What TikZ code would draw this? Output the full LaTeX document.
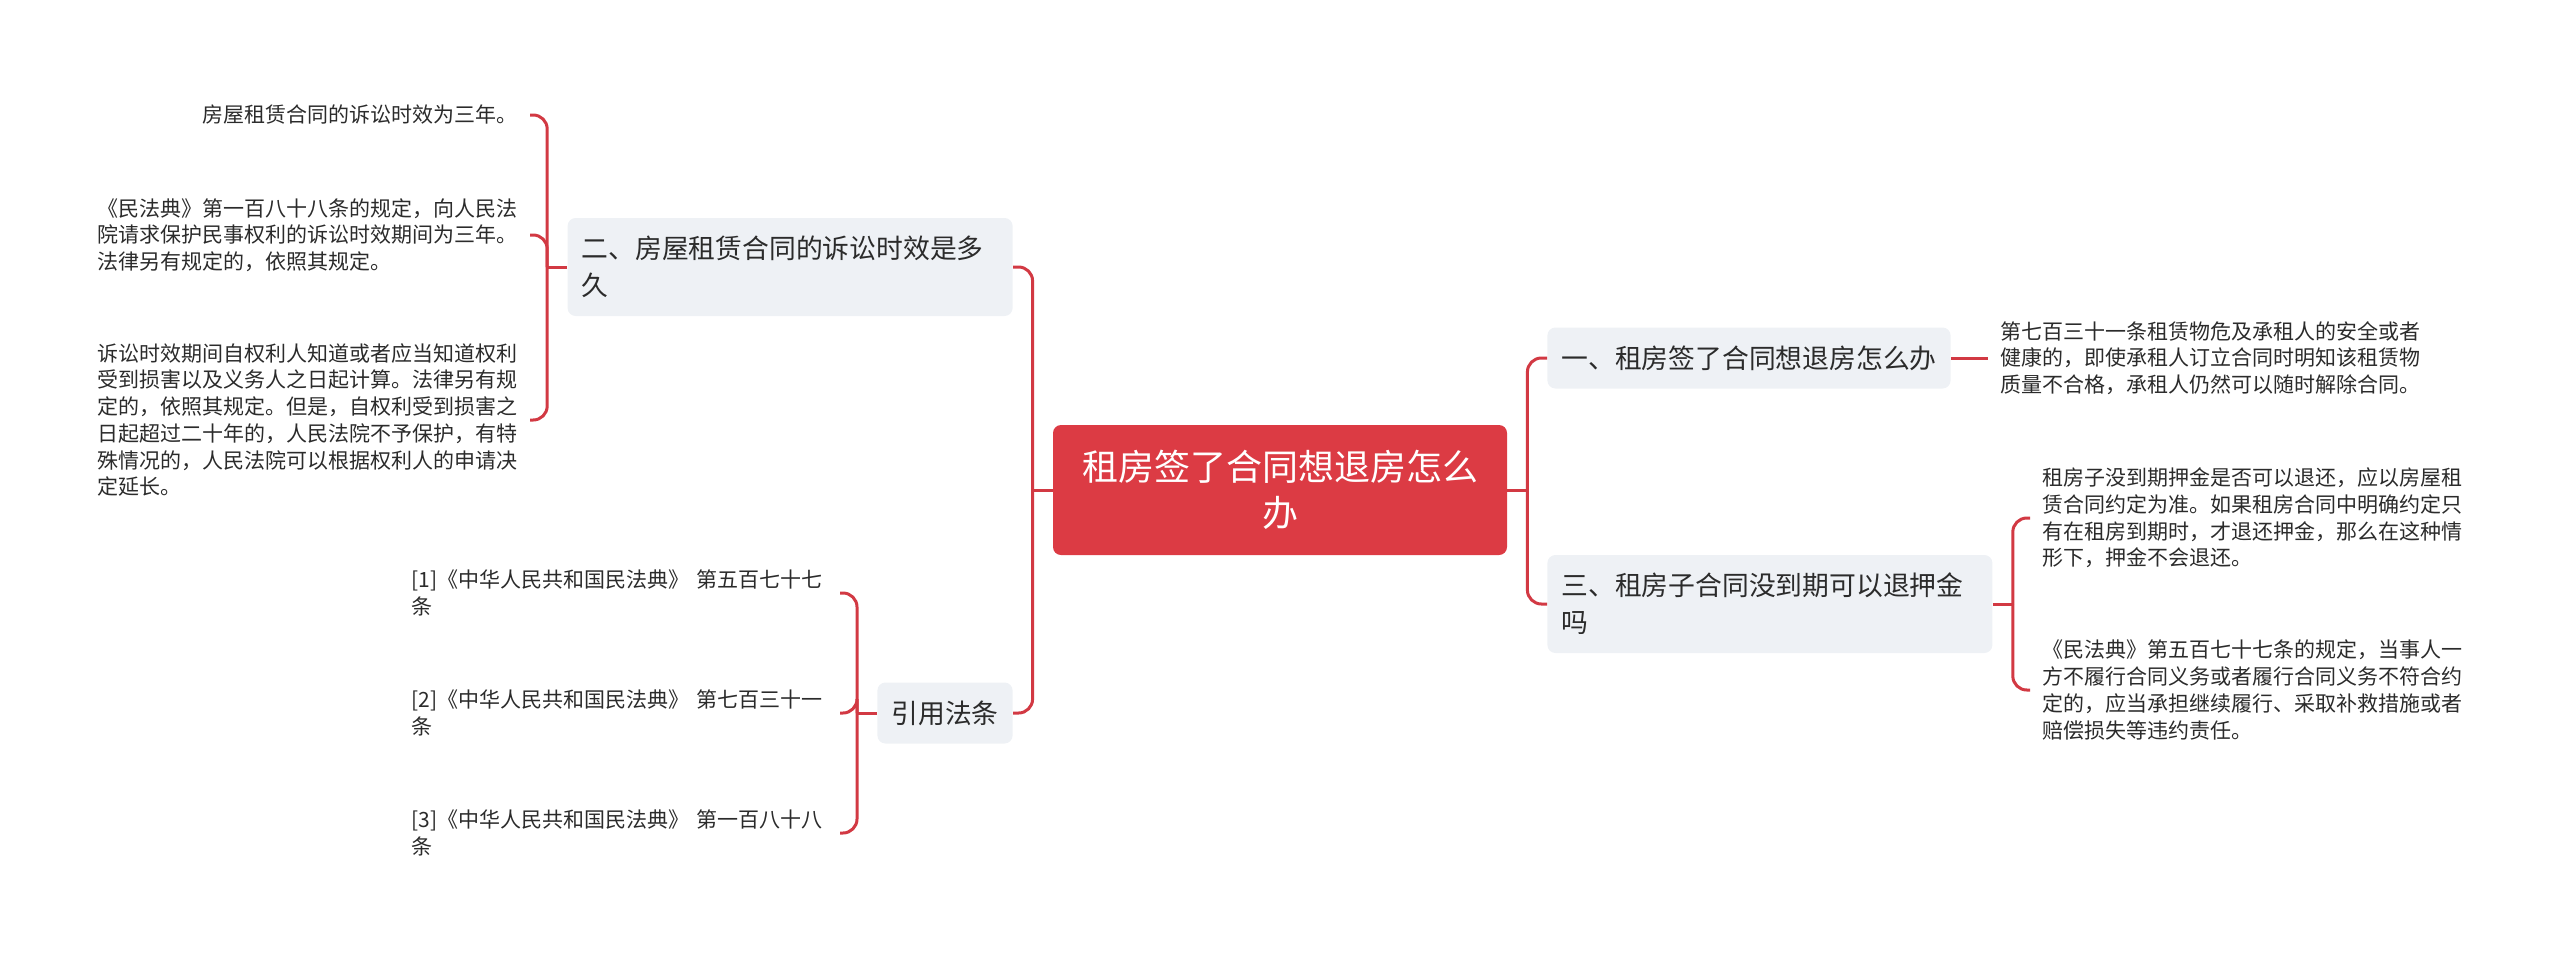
\documentclass[tikz,border=0pt]{standalone}
\usepackage{fontspec}
\setmainfont{Noto Sans CJK SC}
\usepackage{tikz}
\usetikzlibrary{positioning}
\definecolor{rootred}{HTML}{DC3B44}
\definecolor{linkred}{HTML}{D23943}
\definecolor{boxgray}{HTML}{EEF1F5}
\definecolor{inkgray}{HTML}{2B2B2B}

\begin{document}
\begin{tikzpicture}[x=0.5pt,y=-0.5pt]
  \tikzstyle{root}=[fill=rootred,text=white,rounded corners=4pt,minimum width=227pt,minimum height=65pt,align=center,font=\fontsize{18pt}{23pt}\selectfont]
  \tikzstyle{topic}=[fill=boxgray,text=inkgray,rounded corners=4pt,inner xsep=7pt,align=left,font=\fontsize{13.4pt}{18.5pt}\selectfont]
  \tikzstyle{leaf}=[text=inkgray,inner xsep=6pt,inner ysep=2pt,align=left,font=\fontsize{10.5pt}{13.35pt}\selectfont]
  \tikzstyle{link}=[draw=linkred,line width=1.5pt,rounded corners=7pt]
\useasboundingbox (0,0) rectangle (2560,960);
\node[root] (root) at (1280,490) {租房签了合同想退房怎么\\办};
\node[topic,text width=208.5pt,minimum height=49pt,anchor=east] (limit) at (1013,267) {二、房屋租赁合同的诉讼时效是多\\久};
\node[topic,minimum height=30.5pt,anchor=east] (cite) at (1013,713) {引用法条};
\node[topic,minimum height=30.5pt,anchor=west] (refund) at (1547,358) {一、租房签了合同想退房怎么办};
\node[topic,text width=208.5pt,minimum height=49pt,anchor=west] (deposit) at (1547,604) {三、租房子合同没到期可以退押金\\吗};
\node[leaf,anchor=east,align=right] (limitA) at (530,115) {房屋租赁合同的诉讼时效为三年。};
\node[leaf,anchor=east] (limitB) at (530,235) {《民法典》第一百八十八条的规定，向人民法\\院请求保护民事权利的诉讼时效期间为三年。\\法律另有规定的，依照其规定。};
\node[leaf,anchor=east] (limitC) at (530,420) {诉讼时效期间自权利人知道或者应当知道权利\\受到损害以及义务人之日起计算。法律另有规\\定的，依照其规定。但是，自权利受到损害之\\日起超过二十年的，人民法院不予保护，有特\\殊情况的，人民法院可以根据权利人的申请决\\定延长。};
\node[leaf,anchor=east,text width=208pt] (citeA) at (840,593) {[1]《中华人民共和国民法典》 第五百七十七\\条};
\node[leaf,anchor=east,text width=208pt] (citeB) at (840,713) {[2]《中华人民共和国民法典》 第七百三十一\\条};
\node[leaf,anchor=east,text width=208pt] (citeC) at (840,833) {[3]《中华人民共和国民法典》 第一百八十八\\条};
\node[leaf,anchor=west] (refundA) at (1988,358) {第七百三十一条租赁物危及承租人的安全或者\\健康的，即使承租人订立合同时明知该租赁物\\质量不合格，承租人仍然可以随时解除合同。};
\node[leaf,anchor=west] (depositA) at (2030,518) {租房子没到期押金是否可以退还，应以房屋租\\赁合同约定为准。如果租房合同中明确约定只\\有在租房到期时，才退还押金，那么在这种情\\形下，押金不会退还。};
\node[leaf,anchor=west] (depositB) at (2030,690) {《民法典》第五百七十七条的规定，当事人一\\方不履行合同义务或者履行合同义务不符合约\\定的，应当承担继续履行、采取补救措施或者\\赔偿损失等违约责任。};
\draw[link] (root.west) -- ([xshift=-10pt]root.west);
\draw[link] (root.east) -- ([xshift=10pt]root.east);
\foreach \kid in {limit,cite}
  \draw[link] ([xshift=-10pt]root.west) |- (\kid.east);
\foreach \kid in {refund,deposit}
  \draw[link] ([xshift=10pt]root.east) |- (\kid.west);
\draw[link] (limit.west) -- ([xshift=-10pt]limit.west);
\foreach \kid in {limitA,limitB,limitC}
  \draw[link] ([xshift=-10pt]limit.west) |- (\kid.east);
\draw[link] (cite.west) -- ([xshift=-10pt]cite.west);
\foreach \kid in {citeA,citeB,citeC}
  \draw[link] ([xshift=-10pt]cite.west) |- (\kid.east);
\draw[link] (refund.east) -- (refundA.west);
\draw[link] (deposit.east) -- ([xshift=10pt]deposit.east);
\foreach \kid in {depositA,depositB}
  \draw[link] ([xshift=10pt]deposit.east) |- (\kid.west);
\end{tikzpicture}
\end{document}
